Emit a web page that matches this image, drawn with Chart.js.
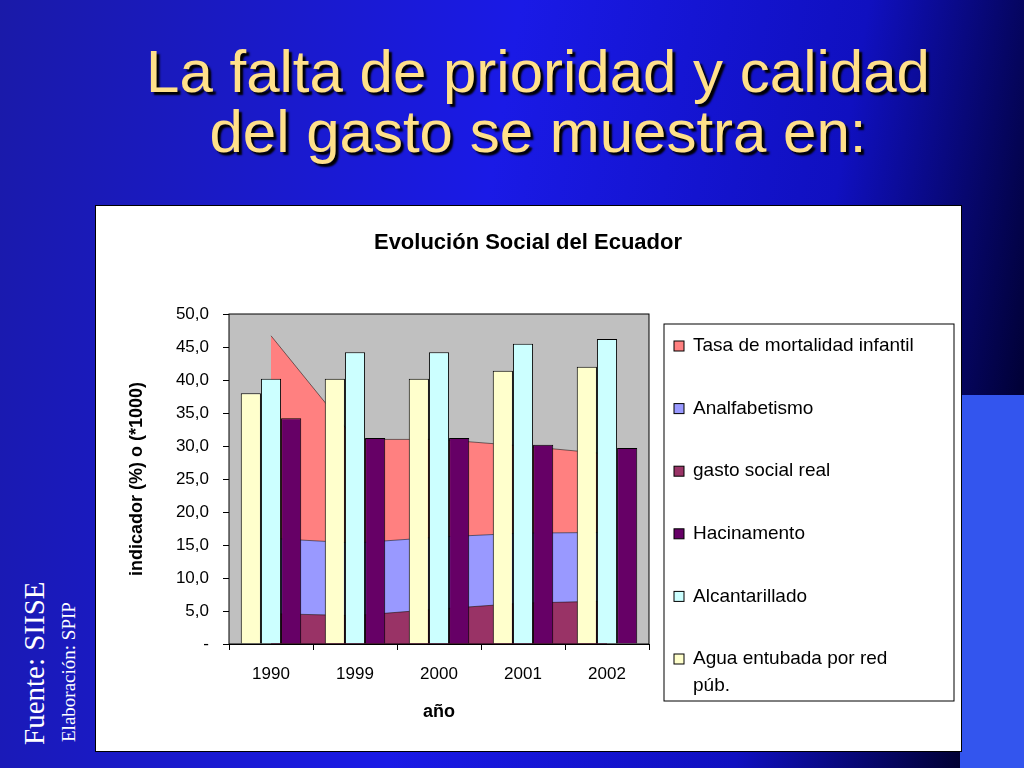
<!DOCTYPE html>
<html><head><meta charset="utf-8">
<script src="https://cdn.jsdelivr.net/npm/chart.js@4"></script>
<style>
body{margin:0;width:1024px;height:768px;overflow:hidden;font-family:"Liberation Sans",Arial,sans-serif;
background:linear-gradient(100deg,#1a1aa8 0%,#1a1ae6 45%,#1010c0 75%,#000030 95%);position:relative}
#t{position:absolute;left:0;top:42px;width:1076px;text-align:center;color:#ffe08a;font-size:60px;line-height:60px;text-shadow:3px 3px 2px #000}
#p{position:absolute;left:95px;top:205px;width:865px;height:545px;background:#fff;border:1px solid #000}
#r{position:absolute;left:960px;top:395px;width:64px;height:373px;background:#3355ee}
.v{position:absolute;transform:rotate(-90deg);transform-origin:left top;color:#fff;font-family:"Liberation Serif",serif;white-space:nowrap}
</style></head><body>
<div id="r"></div>
<div id="t">La falta de prioridad y calidad<br>del gasto se muestra en:</div>
<div class="v" style="left:18px;top:745px;font-size:29px">Fuente: SIISE</div>
<div class="v" style="left:58px;top:742px;font-size:19px">Elaboración: SPIP</div>
<div id="p"><canvas id="c" width="865" height="545"></canvas></div>
<script>
const years=["1990","1999","2000","2001","2002"];
const mortalidad=[30.7,15.7,14.8,13.2,11.9];
const analfabetismo=[11.4,11.0,10.9,10.6,10.4];
const gastoSocial=[4.6,4.3,5.3,6.2,6.5];
const hacinamento=[34.2,31.2,31.2,30.2,29.7];
const alcantarillado=[40.2,44.2,44.2,45.5,46.2];
const agua=[38.0,40.2,40.2,41.4,42.0];
const legendOrder=["Tasa de mortalidad infantil","Analfabetismo","gasto social real","Hacinamento","Alcantarillado","Agua entubada por red|púb."];
const F='"Liberation Sans",Arial,sans-serif';
const bar=(l,d,c)=>({type:'bar',label:l,data:d,backgroundColor:c,borderColor:'#000',borderWidth:1,yAxisID:'y',order:0,barPercentage:1,categoryPercentage:0.72});
const area=(l,d,c,f)=>({type:'line',label:l,data:d,backgroundColor:c,borderColor:'#000',borderWidth:0.5,pointRadius:0,fill:f,yAxisID:'y2',stack:'a',order:1,tension:0});
const deco={id:'deco',
beforeDatasetsDraw(ch){const a=ch.chartArea,x=ch.ctx;x.save();x.fillStyle='#c0c0c0';x.fillRect(a.left,a.top,a.width,a.height);x.restore();},
afterDraw(ch){const a=ch.chartArea,x=ch.ctx;x.save();x.strokeStyle='#000';x.lineWidth=1;x.strokeRect(a.left,a.top,a.width,a.height);
x.fillStyle='#000';x.font='bold 22px '+F;x.textAlign='center';x.fillText('Evolución Social del Ecuador',432,43);
x.strokeRect(568,118,290,377);
x.font='19px '+F;x.textAlign='left';x.textBaseline='middle';
legendOrder.forEach((lab,i)=>{const ds=ch.data.datasets.find(d=>d.label===lab);const y=140+i*62.6;
x.fillStyle=ds.backgroundColor;x.fillRect(578,y-5,10,10);x.strokeRect(578,y-5,10,10);x.fillStyle='#000';
lab.split('|').forEach((s,j)=>x.fillText(s,597,y+j*27));});
x.restore();}};
new Chart(document.getElementById('c'),{data:{labels:years,datasets:[
area('gasto social real',gastoSocial,'#993366','origin'),
area('Analfabetismo',analfabetismo,'#9999ff','-1'),
area('Tasa de mortalidad infantil',mortalidad,'#ff8080','-1'),
bar('Agua entubada por red|púb.',agua,'#ffffcc'),
bar('Alcantarillado',alcantarillado,'#ccffff'),
bar('Hacinamento',hacinamento,'#660066')]},
options:{responsive:false,animation:false,layout:{padding:{top:108,right:312,left:26,bottom:24}},
plugins:{legend:{display:false},title:{display:false},tooltip:{enabled:false}},
scales:{
x:{offset:true,grid:{drawOnChartArea:false,color:'#000',tickLength:6,offset:true},border:{color:'#000'},
ticks:{color:'#000',font:{size:17,family:F},padding:14},
title:{display:true,text:'año',color:'#000',font:{size:18,weight:'bold',family:F}},afterFit(s){s.height=83;}},
y:{min:0,max:50,grid:{drawOnChartArea:false,color:'#000',tickLength:6},border:{color:'#000'},
ticks:{stepSize:5,color:'#000',font:{size:17,family:F},padding:14,callback:v=>v===0?'-':v.toFixed(1).replace('.',',')},
title:{display:true,text:'indicador (%) o (*1000)',color:'#000',font:{size:18,weight:'bold',family:F}},afterFit(s){s.width=107;}},
y2:{display:false,stacked:true,min:0,max:50}}},
plugins:[deco]});
</script></body></html>
